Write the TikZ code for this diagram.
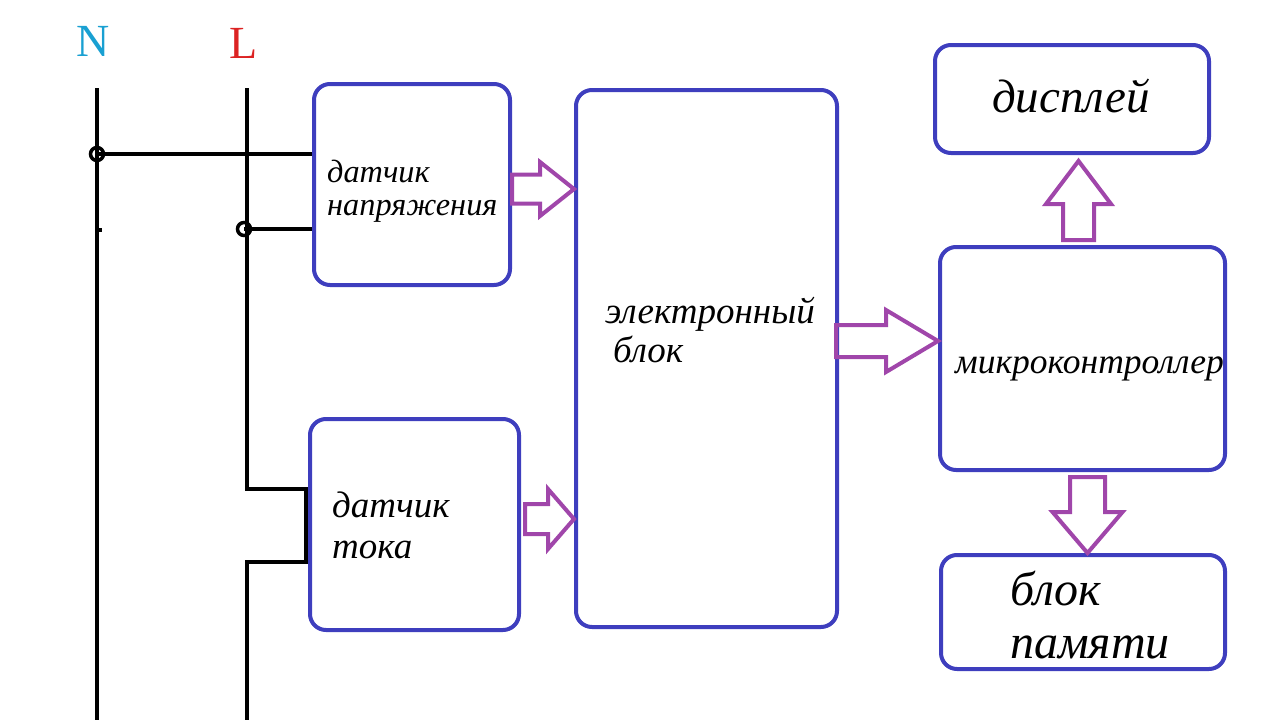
\documentclass[tikz,border=0pt]{standalone}
\usepackage{fontspec}
\setmainfont{Liberation Serif}
\usetikzlibrary{calc}
\definecolor{boxblue}{RGB}{62,62,190}
\definecolor{arrpurple}{RGB}{160,70,170}
\definecolor{ncyan}{RGB}{25,160,210}
\definecolor{lred}{RGB}{220,35,35}
\tikzset{
  blk/.style={draw=boxblue, line width=4pt, rounded corners=16pt, inner sep=0pt},
  wire/.style={draw=black, line width=4.5pt},
  junc/.style={circle, draw=black, line width=3.5pt, minimum size=13pt, inner sep=0pt},
  parrow/.style={draw=arrpurple, line width=4pt, line join=miter},
  lbl/.style={anchor=base west, inner sep=0pt, font=\itshape},
}
\newcommand\barrow[5]{%
  \coordinate (ba-t) at (#1);
  \coordinate (ba-h) at (#2);
  \coordinate (ba-b) at ($(ba-h)!#5!(ba-t)$);
  \draw[parrow] ($(ba-t)!#3!90:(ba-h)$) -- ($(ba-b)!#3!-90:(ba-t)$) -- ($(ba-b)!#4!-90:(ba-t)$)
    -- (ba-h) -- ($(ba-b)!#4!90:(ba-t)$) -- ($(ba-b)!#3!90:(ba-t)$) -- ($(ba-t)!#3!-90:(ba-h)$) -- cycle;}
\begin{document}
\begin{tikzpicture}[x=1pt,y=-1pt]
\useasboundingbox (0,0) rectangle (1280,720);
% boxes
\node[blk, minimum width=196pt, minimum height=201pt] (vs) at (412,184.5) {};
\node[blk, minimum width=209pt, minimum height=211pt] (cs) at (414.5,524.5) {};
\node[blk, minimum width=261pt, minimum height=537pt] (eb) at (706.5,358.5) {};
\node[blk, minimum width=285pt, minimum height=223pt] (mc) at (1082.5,358.5) {};
\node[blk, minimum width=274pt, minimum height=108pt] (dp) at (1072,99) {};
\node[blk, minimum width=284pt, minimum height=114pt] (mem) at (1083,612) {};
% labels
\node[lbl, font=\itshape\fontsize{32.3}{32.3}\selectfont] (t1) at (327,182) {датчик};
\node[lbl, font=\itshape\fontsize{32.3}{32.3}\selectfont] (t2) at (327,215) {напряжения};
\node[lbl, font=\itshape\fontsize{37}{37}\selectfont] (t3) at (332,517) {датчик};
\node[lbl, font=\itshape\fontsize{37}{37}\selectfont] (t4) at (332,558) {тока};
\node[lbl, font=\itshape\fontsize{37}{37}\selectfont] (t5) at (605,323) {электронный};
\node[lbl, font=\itshape\fontsize{37}{37}\selectfont] (t6) at (613,362) {блок};
\node[lbl, font=\itshape\fontsize{35.5}{35.5}\selectfont] (t7) at (955,373) {микроконтроллер};
\node[lbl, font=\itshape\fontsize{47}{47}\selectfont] (t8) at (992,112) {дисплей};
\node[lbl, font=\itshape\fontsize{48}{48}\selectfont] (t9) at (1010,605) {блок};
\node[lbl, font=\itshape\fontsize{48}{48}\selectfont] (t10) at (1010,658) {памяти};
\node[anchor=base west, inner sep=0pt, text=ncyan, font=\fontsize{46}{46}\selectfont] (Nl) at (76,56) {N};
\node[anchor=base west, inner sep=0pt, text=lred, font=\fontsize{46}{46}\selectfont] (Ll) at (229,58) {L};
% wires
\coordinate (Ntop) at (97,88);
\coordinate (Nbot) at (97,720);
\coordinate (Ltop) at (247,88);
\coordinate (Lbot) at (247,720);
\coordinate (Lc1) at ($(cs.west)+(-2,-35.5)$);
\coordinate (Lc2) at ($(cs.west)+(-2,37.5)$);
\draw[wire] (Ntop) -- (Nbot);
\draw[wire, line join=miter] (Ltop) |- (Lc1) -- (Lc2) -| (Lbot);
\node[junc] (jN) at (97,154) {};
\node[junc] (jL) at (244,229) {};
\draw[wire] (jN.center) -- (vs.west |- jN.center);
\draw[wire] (jL.center) -- (vs.west |- jL.center);
\coordinate (tk) at (97,230);
\draw[line width=3.5pt] (tk) -- ++(5,0);
% block arrows
\barrow{$(vs.east)+(0,4.5)$}{eb.west |- ba-t}{14.5pt}{27pt}{34pt}
\barrow{$(cs.east)+(4,-5.5)$}{eb.west |- ba-t}{15pt}{30pt}{26pt}
\barrow{$(eb.east)+(-3,-17.5)$}{mc.west |- ba-t}{16pt}{31pt}{52pt}
\barrow{$(mc.north)+(-4,-5)$}{$(ba-t |- dp.south)+(0,6)$}{15.5pt}{32.5pt}{43pt}
\barrow{$(mc.south)+(5,5)$}{ba-t |- mem.north}{17.5pt}{35pt}{41pt}
\end{tikzpicture}
\end{document}
